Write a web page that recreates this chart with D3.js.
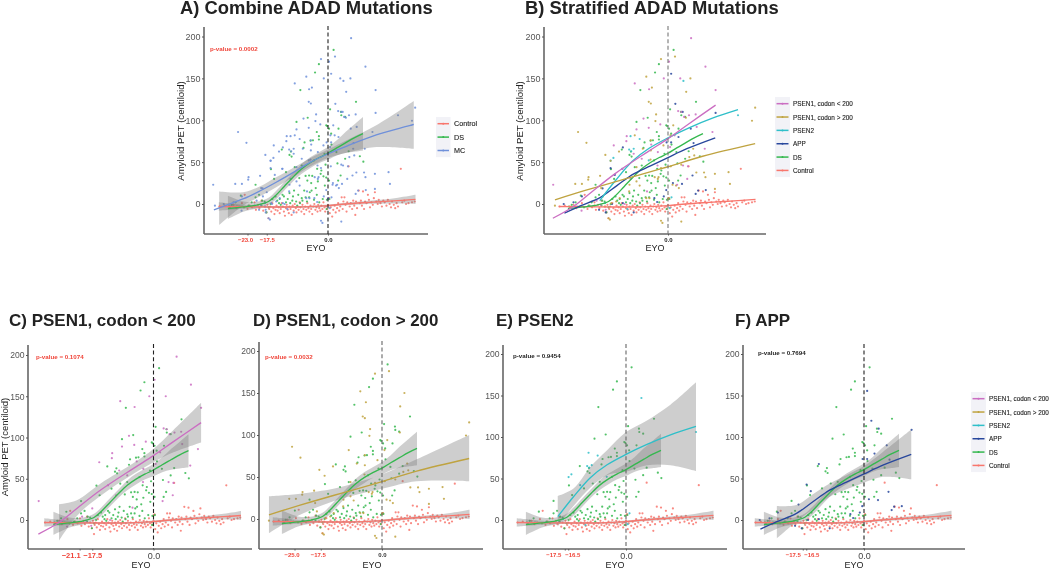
<!DOCTYPE html>
<html><head><meta charset="utf-8">
<script src="https://cdn.jsdelivr.net/npm/d3@7/dist/d3.min.js"></script>
<style>html,body{margin:0;padding:0;background:#fff}svg{display:block;filter:blur(0.4px)}text{font-family:"Liberation Sans",Arial,sans-serif}</style>
</head><body><svg id="c" width="1050" height="569"></svg>
<script>
const controlPts=[[-31,-3],[-29.5,-2],[-28,-4],[-27,-1],[-26.2,-5],[-25.4,-3],[-24.6,1],[-23.8,11],[-23,-6],[-22.4,-2],[-21.7,-4],[-21,2],[-20.6,-7],[-20,-1],[-19.6,-5],[-19,4],[-18.5,-8],[-18.1,-3],[-17.6,-10],[-17.3,-1],[-17,-17],[-16.8,-6],[-16.5,-3],[-16.2,-9],[-15.9,1],[-15.6,-5],[-15.3,-12],[-15,-7],[-14.7,-2],[-14.4,-8],[-14.1,-4],[-13.8,-11],[-13.5,-6],[-13.2,1],[-12.9,-3],[-12.6,-9],[-12.3,-14],[-12,-5],[-11.8,-1],[-11.5,-7],[-11.2,-11],[-11,-3],[-10.7,-6],[-10.4,-13],[-10.1,-2],[-9.8,-8],[-9.5,0],[-9.2,-5],[-9,-10],[-8.7,-3],[-8.4,-7],[-8.1,2],[-7.9,-4],[-7.6,-9],[-7.3,-1],[-7,-6],[-6.8,-12],[-6.5,-3],[-6.2,-7],[-5.9,1],[-5.6,-5],[-5.3,-9],[-5,-2],[-4.8,-6],[-4.5,-12],[-4.2,-3],[-3.9,0],[-3.6,-7],[-3.3,-4],[-3,-9],[-2.8,-1],[-2.5,-5],[-2.2,-8],[-1.9,-2],[-1.6,-6],[-1.3,2],[-1,-4],[-.8,-9],[-.5,-3],[-.2,-6],[0,-1],[.1,6],[.3,7],[.5,-11],[.8,-4],[1.2,-15],[1.5,-7],[1.9,-2],[2.2,-10],[2.6,-5],[2.9,1],[3.2,-8],[3.5,-3],[3.9,8],[4.2,-6],[4.4,3],[4.7,8],[5,-1],[5.3,-9],[5.5,2],[5.9,45],[6.2,-3],[6.5,1],[6.9,-6],[7.2,4],[7.5,-2],[7.8,-13],[8,3],[8.3,-5],[8.8,16],[9.1,1],[9.4,4],[9.7,-2],[10,15],[10.3,-6],[10.6,3],[11,1],[11.4,11],[11.7,5],[12,-4],[12.4,2],[12.8,-1],[13.1,7],[13.4,14],[13.8,3],[14.2,0],[14.5,5],[15,1],[15.4,-3],[15.8,4],[16.2,2],[16.7,-2],[17.1,5],[17.6,0],[18,-4],[18.3,3],[18.8,-1],[19.2,-5],[19.6,1],[20,-3],[20.8,42],[21.2,2],[21.8,4],[22.3,0],[23,1],[24,2],[24.8,3]];
const dsPts=[[1.6,184],[-2.6,167],[-3.7,157],[-7.9,136],[8,122],[.6,113],[-9,98],[-5.8,103],[3.7,110],[3.8,106],[4.9,104],[-.5,94],[.3,90],[3,90],[-.2,93],[-2.6,81],[-4.3,76],[-2.6,77],[-5,75.6],[-6.7,73.5],[-7,67],[5.9,63],[-13.2,65],[-11,58.6],[-10.4,56.6],[-10.6,62.6],[4.9,54],[9.1,57],[10.1,50.5],[2.7,48.5],[-.7,47],[-16.3,41.6],[-20.7,23],[-15.4,30],[-6.4,33.5],[-5.4,34],[-5.9,28],[-4.8,25],[-4.7,16],[-4.5,33.5],[-2.1,36],[-1.9,40],[-1.3,33],[-.5,31.5],[.3,28],[2.9,28],[3.6,34],[-5.4,8],[-5.2,14],[-9.7,16],[-11,13],[-12.6,9],[-13.8,6],[-14.5,4],[-6.4,8],[-7.3,4],[-10.2,4],[-24.9,10],[-26.4,2],[-27.5,-1],[-28.3,-3],[-21.8,2],[-20.7,8],[-19.7,11],[-18.8,4],[-17.6,-10],[-18.1,3],[-16.4,0],[-15.9,6],[-15,9],[-14,1],[-13,11],[-12,2],[-11.5,6],[-10.8,1],[-10,9],[-9.1,3],[-8.5,11],[-8,1],[-7.5,7],[-6.8,16],[-6,3],[-4,5],[-3.2,11],[-2.5,2],[-1.5,6],[-.4,-6],[-.3,5],[.4,6],[-17,-4],[-19,-2],[-22.7,-2],[-24,-4],[-26,-3],[-13.5,-1],[-8.8,-2],[-3.5,19],[-2.9,27],[-8.2,31],[-9.5,44],[-7.5,46],[-4,52],[-1,60],[1,71],[-3.2,86],[.9,84],[2.4,62],[-12,38],[-.9,22],[-3.1,42]];
const psen1LowPts=[[-32.8,23],[6.6,198],[10.7,164],[.3,170],[-1.2,150],[3.5,150],[-9.5,144],[-5.4,137],[13.6,136],[-7,102],[-9,89],[-5.5,91],[-11.8,81],[-11.9,75],[-15.5,70],[-2.2,95],[2.9,111],[3.8,110],[4.6,104],[6,106],[7.9,107],[12.7,86],[10.5,66],[5.5,30],[2.6,23],[4.3,46],[5.7,45],[1.9,82],[-13,42],[-9.8,60],[-7.5,54],[-10.7,30],[-6,15],[-3,46],[-17.5,14],[-20.4,4],[-17.8,-7],[-19.2,-1],[-24.7,-8],[-26,-4],[-12.4,0],[-4.8,71],[-2.9,62],[.6,68],[8.2,92]];
const psen1HighPts=[[-25.7,86],[-23.3,73],[-17.9,58.6],[-16.4,51.5],[-14,62.6],[-22.7,32],[-22.8,29],[-24.6,24],[-26.5,24],[-19.4,33.7],[-19.1,19],[-32.3,-2],[-9.5,82],[-6.2,152],[-2,173],[2,176],[6.4,150],[5.2,134],[-5.5,122],[-4.6,139],[-4.9,120],[-3.4,107],[-3.6,99],[1.5,94],[.7,82],[-1.3,70],[-4.9,64],[-5,53],[-3.8,32],[-2.7,32],[-2.9,30],[-2,43],[.8,45],[3.8,47],[6.1,56],[7.2,66],[7.5,58],[5.1,103],[8.1,37.6],[10.3,37.6],[10.7,32],[13.4,36],[13.4,18],[17.3,38],[17.7,24],[24,99.4],[24.9,115],[1.3,23],[2.3,22],[3.1,19],[-2,-20],[-1.6,-22.6],[3.8,-21],[-16.6,-18.6],[-17,-17],[0,6],[.1,7],[-16.2,1],[-14.8,3],[-13.8,7],[-11.1,15],[-9,27],[-8.1,22],[-6.2,7],[-5.3,7],[-11,23],[-9,44],[-7.2,66],[-4.9,76],[-28,-3],[-21,-2],[-18.6,9],[-17.9,-3]];
const psen2Pts=[[4.4,147],[-10.7,81],[-8.1,77.6],[-11.1,65],[-15.6,55],[-16.4,51.7],[20,106],[-10.5,63],[-9.8,66],[-11.6,-6],[-5.5,52],[-13.1,42],[-18,1],[1,8],[.5,-5]];
const appPts=[[.9,155.5],[2.1,119.6],[4.2,110],[6.5,90],[13.6,108.7],[3,80],[.9,73.5],[-.4,73.5],[-12.9,67.5],[-16.4,42.8],[-15.2,34.7],[-18.7,18.6],[7,34],[1.4,25],[4,24],[-.5,16.6],[10.8,16.6],[7.9,12],[8.6,16],[7.3,72.7],[-3.9,7],[-3.1,2.4],[-29.8,0],[-27,2],[-24.6,9],[-19.7,-7],[-17.8,-10],[-16,0],[-12.9,1],[-9.8,-10],[-1.2,9]];
const mcPts=psen1LowPts.concat(psen1HighPts,psen2Pts,appPts);

// ---- fitted curves: [EYO, fit, upper, lower]
const controlFit=[[-31.2,-3,2,-8],[-25,-3.2,-.5,-6],[-20,-3.5,-2,-5],[-10,-3.6,-2.4,-4.8],[-5,-3.2,-2,-4.6],[0,-2,-.7,-3.3],[5,0,1.4,-1.4],[10,1.5,3.2,-.2],[15,2.7,5,.2],[20,4,7.5,.5],[25,5.5,11,0]];
const dsFit=[[-28.6,-5.5,10,-18],[-24,-3.5,3,-9],[-20,-1,3,-5],[-17,3,7.5,-1],[-15,10,15,5],[-12.5,21,26,16],[-10,32,37,27],[-7.5,42,48,36],[-5,49.5,56,43],[-2.5,55.5,62,49],[0,60.6,68,53],[2.5,67,76,58],[5,73,86,61],[7.5,79,95,62.5],[10,84,104,64]];
const mcFit=[[-32.6,-7,null,null],[-31.1,-4.5,15,-25],[-24.3,6,14,-2],[-19.5,15.5,21,9],[-14.8,26,32,20],[-10,37.5,43,32],[-5,50,55,45],[0,60,65,55],[6.2,70.5,78,62],[13.8,82.5,94,68],[24.5,95,123,66]];
const psen1LowFit=[[-32.9,-17,null,null],[-27,-3,19,-25],[-21.9,14,24,5],[-15.2,36,44,29],[-5.7,62.6,69,56],[0,78,86,70],[5.7,95,109,82],[13.6,118,142,94]];
const psen1HighFit=[[-32.3,5,27,-17],[-23.4,16.5,30,5],[-13.9,28,36,21],[-9.1,33.5,41,27],[0,44.5,53,36],[9.9,57,71,45],[24.9,72,100,45]];
const psen2Fit=[[-19.5,4,29,-8],[-15,28,38,17],[-10.2,51,64,39],[-5.4,66.5,84,54],[0,79,106,58],[6,91,120,66],[12.7,102.5,139,66],[20,112.7,166,59]];
const appFit=[[-29.6,-11,null,null],[-24.9,-2,17,-22],[-19.3,8,18,-2],[-14.6,22,31,13],[-9.8,36,44,28],[-5,45.5,54,37],[0,55.5,65,45],[5.4,66,82,52],[13.5,79,109,49]];

// ---- labels
const yTicks=[0,50,100,150,200];
const legendNamesAll=["PSEN1, codon < 200","PSEN1, codon > 200","PSEN2","APP","DS","Control"];
const legendNamesA=["Control","DS","MC"];
const pValues=["p-value = 0.0002","","p-value = 0.1074","p-value = 0.0032","p-value = 0.9454","p-value = 0.7694"];

const colors={"Control":"#F8766D","DS":"#35B84F","MC":"#6F90DA","PSEN1, codon < 200":"#CB6EC2","PSEN1, codon > 200":"#BFA340","PSEN2":"#2FBFC9","APP":"#28479C"};
const series={"Control":[controlPts,controlFit],"DS":[dsPts,dsFit],"MC":[mcPts,mcFit],"PSEN1, codon < 200":[psen1LowPts,psen1LowFit],"PSEN1, codon > 200":[psen1HighPts,psen1HighFit],"PSEN2":[psen2Pts,psen2Fit],"APP":[appPts,appFit]};

const panels=[
 {title:"A) Combine ADAD Mutations",tx:180,ty:14,ts:18.4,l:204,r:428,v:328,top:27,b:234,y0:204,y200:36.5,ylx:184,yly:131,tickFs:9,ylFs:9.6,xlab:[316,251],
  groups:["Control","DS","MC"],ribbon:true,p:[210,51],pc:"#F0453A",vc:"#222",xt:[[-23,-2.5],[-17.5,0]],xts:6,xtw:"bold",zeroFs:6,zeroC:"#222",zeroW:"bold"},
 {title:"B) Stratified ADAD Mutations",tx:525,ty:14,ts:18.4,l:544,r:766,v:668,top:27,b:234,y0:204,y200:36.5,ylx:523,yly:131,tickFs:9,ylFs:9.6,xlab:[655,251],
  groups:["Control","DS","APP","PSEN2","PSEN1, codon > 200","PSEN1, codon < 200"],ribbon:false,xt:[],vc:"#777",xts:6,zeroFs:6,zeroC:"#222",zeroW:"bold"},
 {title:"C) PSEN1, codon < 200",tx:9,ty:326,ts:17,l:28,r:252,v:153.5,top:345,b:549,y0:520,y200:355,ylx:8,yly:447,tickFs:8.6,ylFs:9.5,xlab:[141,568],
  groups:["Control","DS","PSEN1, codon < 200"],ribbon:true,p:[36,359],pc:"#F0453A",vc:"#222",xt:[[-21.1,-9],[-17.5,0]],xts:7.5,xtw:"normal",zeroFs:9,zeroC:"#444",zeroW:"normal"},
 {title:"D) PSEN1, codon > 200",tx:253,ty:326,ts:16.9,l:259,r:483,v:382,top:342,b:549,y0:519,y200:351,ylx:null,tickFs:8.6,xlab:[372,568],
  groups:["Control","DS","PSEN1, codon > 200"],ribbon:true,p:[265,359],pc:"#F0453A",vc:"#666",xt:[[-25,-3],[-17.5,-3]],xts:6,xtw:"bold",zeroFs:6,zeroC:"#333",zeroW:"bold"},
 {title:"E) PSEN2",tx:496,ty:326,ts:17,l:503,r:727,v:626,top:345,b:549,y0:520,y200:354,ylx:null,tickFs:8.6,xlab:[615,568],
  groups:["Control","DS","PSEN2"],ribbon:true,p:[513,358],pc:"#222",vc:"#666",xt:[[-17.5,-11.5],[-16.5,4]],xts:6,xtw:"bold",zeroFs:9,zeroC:"#444",zeroW:"normal"},
 {title:"F) APP",tx:735,ty:326,ts:17,l:743,r:965,v:864,top:345,b:549,y0:520,y200:354,ylx:null,tickFs:8.6,xlab:[854,568],
  groups:["Control","DS","APP"],ribbon:true,p:[758,355],pc:"#222",vc:"#222",xt:[[-17.5,-10],[-16.5,5]],xts:6,xtw:"bold",zeroFs:9,zeroC:"#444",zeroW:"normal"}
];
const legends=[
 {names:legendNamesA,x:436,y:117,w:14.5,rh:13.4,tx:454,fs:7.2},
 {names:legendNamesAll,x:775,y:97,w:15,rh:13.35,tx:793,fs:6.4},
 {names:legendNamesAll,x:971,y:392,w:15,rh:13.35,tx:989,fs:6.4}
];

const svg=d3.select("#c");
const PX=3.5; // pixels per year of EYO in every panel
const smooth=d3.curveCatmullRom.alpha(.5);
panels.forEach((p,i)=>{
  const g=svg.append("g");
  const x=d3.scaleLinear().domain([(p.l-p.v)/PX,(p.r-p.v)/PX]).range([p.l,p.r]);
  const y=d3.scaleLinear().domain([0,200]).range([p.y0,p.y200]);
  g.append("text").attr("x",p.tx).attr("y",p.ty).attr("font-size",p.ts).attr("font-weight","bold").attr("fill","#222").text(p.title);
  // points
  p.groups.forEach(name=>{
    g.append("g").selectAll("circle").data(series[name][0]).join("circle")
      .attr("cx",d=>x(d[0])).attr("cy",d=>y(d[1])).attr("r",1.1).attr("fill",colors[name]).attr("opacity",.85);
  });
  // ribbons
  if(p.ribbon) p.groups.forEach(name=>{
    const a=d3.area().defined(d=>d[2]!==null).x(d=>x(d[0])).y0(d=>y(d[3])).y1(d=>y(d[2])).curve(smooth);
    g.append("path").datum(series[name][1]).attr("d",a).attr("fill","#777").attr("opacity",.36);
  });
  // lines
  p.groups.forEach(name=>{
    const l=d3.line().x(d=>x(d[0])).y(d=>y(d[1])).curve(smooth);
    g.append("path").datum(series[name][1]).attr("d",l).attr("fill","none").attr("stroke",colors[name]).attr("stroke-width",1.35);
  });
  // axes
  const ya=d3.axisLeft(y).tickValues(yTicks).tickSize(2).tickPadding(1.5);
  const yg=g.append("g").attr("transform",`translate(${p.l},0)`).call(ya);
  yg.select(".domain").attr("d",`M0,${p.top}V${p.b}`).attr("stroke","#666").attr("stroke-width",1.6);
  yg.selectAll("line").attr("stroke","#555");
  yg.selectAll("text").attr("font-size",p.tickFs).attr("fill","#555");
  const xa=d3.axisBottom(x).tickValues(p.xt.map(d=>d[0]).concat([0])).tickSize(1.5).tickPadding(2).tickFormat(d3.format(".1f"));
  const xg=g.append("g").attr("transform",`translate(0,${p.b})`).call(xa);
  xg.select(".domain").attr("d",`M${p.l},0H${p.r}`).attr("stroke","#666").attr("stroke-width",1.6);
  xg.selectAll("line").attr("stroke","#555");
  xg.selectAll(".tick text").each(function(d,j){
    const s=d3.select(this);
    if(d===0){s.attr("font-size",p.zeroFs).attr("fill",p.zeroC).attr("font-weight",p.zeroW);}
    else{s.attr("font-size",p.xts).attr("fill","#F0453A").attr("font-weight","bold").attr("dx",p.xt[j][1]);}
  });
  // reference line at EYO 0
  g.append("line").attr("x1",x(0)).attr("x2",x(0)).attr("y1",p.top-1).attr("y2",p.b).attr("stroke",p.vc).attr("stroke-width",1.1).attr("stroke-dasharray","4,2.6");
  g.append("text").attr("x",p.xlab[0]).attr("y",p.xlab[1]).attr("text-anchor","middle").attr("font-size",9).attr("fill","#222").text("EYO");
  if(p.ylx!==null) g.append("text").attr("transform",`translate(${p.ylx},${p.yly}) rotate(-90)`).attr("text-anchor","middle").attr("font-size",p.ylFs).attr("fill","#222").text("Amyloid PET (centiloid)");
  if(p.p) g.append("text").attr("x",p.p[0]).attr("y",p.p[1]).attr("font-size",6.2).attr("font-weight","bold").attr("fill",p.pc).text(pValues[i]);
});
legends.forEach(L=>{
  const g=svg.append("g");
  g.append("rect").attr("x",L.x).attr("y",L.y).attr("width",L.w).attr("height",L.rh*L.names.length).attr("fill","#F2F2F7");
  L.names.forEach((n,i)=>{
    const yy=L.y+L.rh*(i+.5);
    g.append("line").attr("x1",L.x+1.5).attr("x2",L.x+L.w-1.5).attr("y1",yy).attr("y2",yy).attr("stroke",colors[n]).attr("stroke-width",1.5);
    g.append("circle").attr("cx",L.x+L.w/2).attr("cy",yy).attr("r",1).attr("fill",colors[n]);
    g.append("text").attr("x",L.tx).attr("y",yy+2.5).attr("font-size",L.fs).attr("fill","#222").attr("stroke","#222").attr("stroke-width",.12).text(n);
  });
});
</script></body></html>
